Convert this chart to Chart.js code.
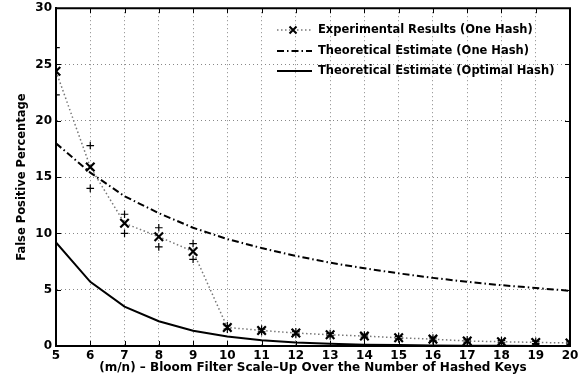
<!DOCTYPE html>
<html><head><meta charset="utf-8">
<script src="https://cdn.jsdelivr.net/npm/chart.js@4.4.1/dist/chart.umd.min.js"></script>
<style>html,body{margin:0;padding:0;background:#fff}#wrap{width:587px;height:381px}</style>
</head><body><div id="wrap"><canvas id="c" width="587" height="381"></canvas></div>
<script>
// ---- data ----
const scaleUp = [5,6,7,8,9,10,11,12,13,14,15,16,17,18,19,20];
const experimental = [24.4,15.9,10.9,9.7,8.4,1.65,1.38,1.15,1.0,0.88,0.73,0.61,0.44,0.38,0.32,0.27];
const experimentalUpper = [26.5,17.8,11.7,10.5,9.1,1.8,1.5,1.27,1.1,0.98,0.83,0.71,0.54,0.48,0.42,0.37];
const experimentalLower = [22.3,14.0,10.0,8.8,7.7,1.5,1.26,1.03,0.9,0.78,0.63,0.51,0.34,0.28,0.22,0.17];
const theoryOneHash = [18.0,15.4,13.3,11.8,10.5,9.5,8.7,8.0,7.4,6.9,6.45,6.05,5.7,5.4,5.15,4.9];
const theoryOptimalHash = [9.2,5.7,3.5,2.2,1.35,0.85,0.52,0.32,0.2,0.12,0.08,0.05,0.03,0.02,0.01,0.01];
const seriesNames = ['Experimental Results (One Hash)','Theoretical Estimate (One Hash)','Theoretical Estimate (Optimal Hash)'];
const xTitle = '(m/n) \u2013 Bloom Filter Scale\u2013Up Over the Number of Hashed Keys';
const yTitle = 'False Positive Percentage';

const FONT = '"DejaVu Sans", Verdana, sans-serif';
const pts = ys => scaleUp.map((x,i)=>({x, y: ys[i]}));

const DOT_DASH = [1.5, 2.5];
const DASHDOT = [7, 3, 1.5, 3];

const framePlugin = {
  id: 'frame',
  afterDraw(chart) {
    const {ctx, chartArea: a, scales: {x, y}} = chart;
    ctx.save();
    ctx.strokeStyle = '#000';
    ctx.lineWidth = 1;
    ctx.setLineDash([]);
    const tl = 5;
    x.ticks.forEach(t => {
      const px = Math.round(x.getPixelForValue(t.value)) + 0.5;
      ctx.beginPath();
      ctx.moveTo(px, a.bottom); ctx.lineTo(px, a.bottom - tl);
      ctx.moveTo(px, a.top); ctx.lineTo(px, a.top + tl);
      ctx.stroke();
    });
    y.ticks.forEach(t => {
      const py = Math.round(y.getPixelForValue(t.value)) + 0.5;
      ctx.beginPath();
      ctx.moveTo(a.left, py); ctx.lineTo(a.left + tl, py);
      ctx.moveTo(a.right, py); ctx.lineTo(a.right - tl, py);
      ctx.stroke();
    });
    ctx.lineWidth = 2;
    ctx.beginPath();
    ctx.moveTo(a.left, a.top); ctx.lineTo(a.right, a.top); ctx.lineTo(a.right, a.bottom);
    ctx.stroke();

    // legend
    const rows = [30, 51, 71];
    const x0 = 277, x1 = 312, tx = 318;
    ctx.font = 'bold 11.5px ' + FONT;
    ctx.textBaseline = 'middle';
    ctx.fillStyle = '#000';
    rows.forEach((ry, i) => {
      ctx.beginPath();
      if (i === 0) { ctx.strokeStyle = '#777'; ctx.lineWidth = 1.5; ctx.setLineDash(DOT_DASH); }
      else if (i === 1) { ctx.strokeStyle = '#000'; ctx.lineWidth = 2; ctx.setLineDash(DASHDOT); }
      else { ctx.strokeStyle = '#000'; ctx.lineWidth = 2; ctx.setLineDash([]); }
      ctx.moveTo(x0, ry); ctx.lineTo(x1, ry); ctx.stroke();
      ctx.setLineDash([]);
      if (i === 0) {
        ctx.strokeStyle = '#000'; ctx.lineWidth = 2;
        const cx = 293, r = 3.5;
        ctx.beginPath();
        ctx.moveTo(cx - r, ry - r); ctx.lineTo(cx + r, ry + r);
        ctx.moveTo(cx - r, ry + r); ctx.lineTo(cx + r, ry - r);
        ctx.stroke();
      }
      ctx.fillText(seriesNames[i], tx, ry);
    });
    ctx.restore();
  }
};

new Chart(document.getElementById('c'), {
  type: 'scatter',
  data: {
    datasets: [
      { label: 'upper', data: pts(experimentalUpper), showLine: false, pointStyle: 'cross', pointRadius: 3.8, borderColor: '#000', backgroundColor: '#000', pointBorderWidth: 1.2 },
      { label: 'lower', data: pts(experimentalLower), showLine: false, pointStyle: 'cross', pointRadius: 3.8, borderColor: '#000', backgroundColor: '#000', pointBorderWidth: 1.2 },
      { label: seriesNames[0], data: pts(experimental), showLine: true, borderColor: '#777', borderWidth: 1.5, borderDash: DOT_DASH,
        pointStyle: 'crossRot', pointRadius: 6, pointBorderColor: '#000', pointBorderWidth: 2.2 },
      { label: seriesNames[1], data: pts(theoryOneHash), showLine: true, borderColor: '#000', borderWidth: 2, borderDash: DASHDOT, pointRadius: 0 },
      { label: seriesNames[2], data: pts(theoryOptimalHash), showLine: true, borderColor: '#000', borderWidth: 2, pointRadius: 0 }
    ]
  },
  options: {
    responsive: false,
    animation: false,
    devicePixelRatio: 1,
    layout: { padding: { top: 4, right: 17, left: 0, bottom: 0 } },
    plugins: { legend: { display: false }, tooltip: { enabled: false } },
    scales: {
      x: {
        type: 'linear', min: 5, max: 20,
        ticks: { stepSize: 1, color: '#000', font: { family: FONT, size: 12, weight: 'bold' }, padding: 3, maxRotation: 0 },
        grid: { color: '#888', lineWidth: 1, drawTicks: false },
        border: { display: true, color: '#000', width: 2, dash: [1, 3] },
        title: { display: true, text: xTitle, color: '#000', font: { family: FONT, size: 12, weight: 'bold' }, padding: { top: 0, bottom: 6 } },
        afterFit(s) { s.height = 35; s.paddingLeft = 0; s.paddingRight = 0; }
      },
      y: {
        min: 0, max: 30,
        ticks: { stepSize: 5, color: '#000', font: { family: FONT, size: 12, weight: 'bold' }, padding: 4 },
        grid: { color: '#888', lineWidth: 1, drawTicks: false },
        border: { display: true, color: '#000', width: 2, dash: [1, 3] },
        title: { display: true, text: yTitle, color: '#000', font: { family: FONT, size: 11.5, weight: 'bold' }, padding: { top: 15, bottom: 0 } },
        afterFit(s) { s.width = 56; s.paddingTop = 0; s.paddingBottom = 0; }
      }
    }
  },
  plugins: [framePlugin]
});
</script>
</body></html>
